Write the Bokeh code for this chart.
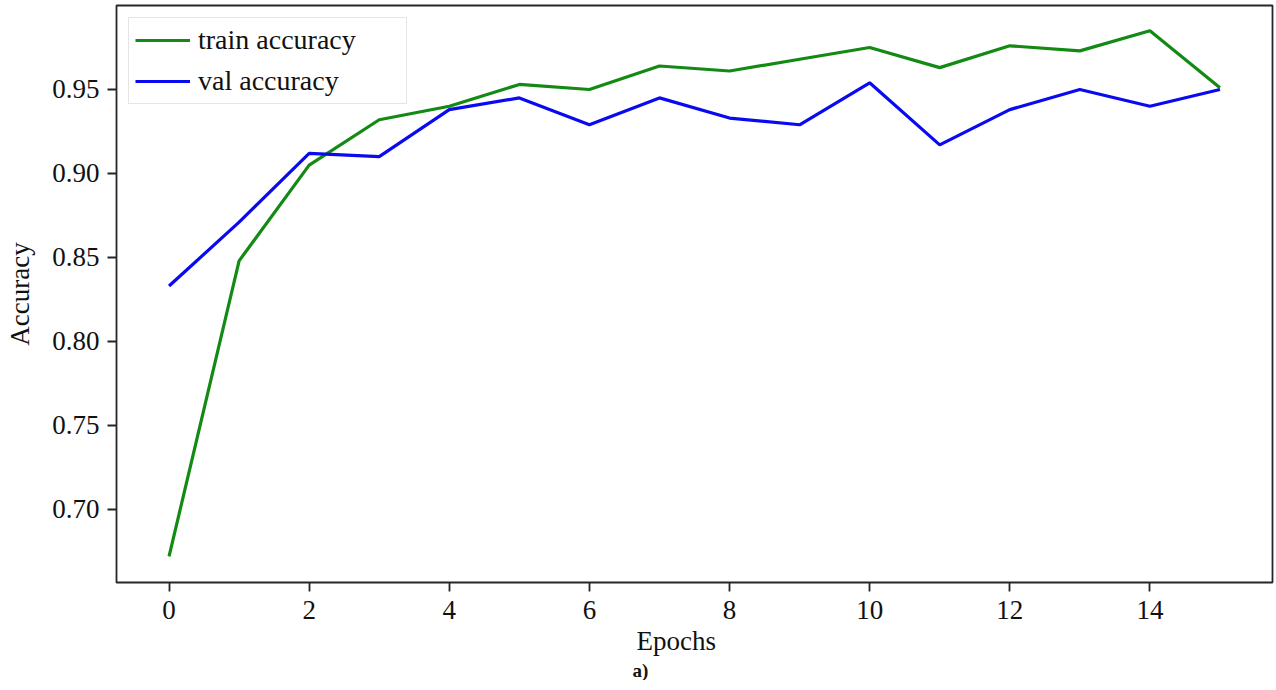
from bokeh.plotting import figure
from bokeh.models import Range1d, FixedTicker, Legend, LegendItem, Title, PrintfTickFormatter
from bokeh.embed import file_html
from bokeh.resources import INLINE

epochs = list(range(16))
train_accuracy = [0.672, 0.848, 0.905, 0.932, 0.940, 0.953, 0.950, 0.964,
                  0.961, 0.968, 0.975, 0.963, 0.976, 0.973, 0.985, 0.951]
val_accuracy = [0.833, 0.871, 0.912, 0.910, 0.938, 0.945, 0.929, 0.945,
                0.933, 0.929, 0.954, 0.917, 0.938, 0.950, 0.940, 0.950]
x_ticks = [0, 2, 4, 6, 8, 10, 12, 14]
y_ticks = [0.70, 0.75, 0.80, 0.85, 0.90, 0.95]

FONT = "Liberation Serif"
INK = "#262626"
TEXT = "#111111"

p = figure(
    frame_width=1156, frame_height=577,
    x_range=Range1d(-0.75, 15.75), y_range=Range1d(0.6565, 1.0),
    output_backend="svg", toolbar_location=None,
    min_border_left=116, min_border_right=4, min_border_top=5, min_border_bottom=10,
    background_fill_color="white", border_fill_color="white",
)
p.grid.visible = False
p.outline_line_color = INK
p.outline_line_width = 1.8

for ax in (p.xaxis[0], p.yaxis[0]):
    ax.axis_line_color = None
    ax.major_tick_line_color = INK
    ax.major_tick_line_width = 1.8
    ax.major_tick_out = 9
    ax.major_tick_in = 0
    ax.minor_tick_line_color = None
    ax.major_label_text_font = FONT
    ax.major_label_text_font_size = "27px"
    ax.major_label_text_color = TEXT
    ax.axis_label_text_font = FONT
    ax.axis_label_text_font_size = "27px"
    ax.axis_label_text_font_style = "normal"
    ax.axis_label_text_color = TEXT

p.xaxis.ticker = FixedTicker(ticks=x_ticks)
p.yaxis.ticker = FixedTicker(ticks=y_ticks)
p.yaxis.formatter = PrintfTickFormatter(format="%.2f")
p.yaxis.axis_label = "Accuracy"
p.xaxis.major_label_standoff = 9
p.yaxis.major_label_standoff = 8
p.yaxis.axis_label_standoff = 14

r_train = p.line(epochs, train_accuracy, line_color="#138a13", line_width=3.2)
r_val = p.line(epochs, val_accuracy, line_color="#0a0af0", line_width=3.2)

legend = Legend(
    items=[LegendItem(label="train accuracy", renderers=[r_train]),
           LegendItem(label="val accuracy", renderers=[r_val])],
    location="top_left", margin=12, padding=6, spacing=9,
    glyph_width=55, glyph_height=28, label_height=28, label_width=202,
    label_standoff=8,
    label_text_font=FONT, label_text_font_size="28px", label_text_color=TEXT,
    border_line_color="#cccccc", border_line_width=1.5,
    background_fill_color="white", background_fill_alpha=0.8,
)
p.add_layout(legend)

# x-axis title and panel tag, stacked beneath the tick labels
p.add_layout(Title(text="Epochs", align="left", offset=520, standoff=4,
                   text_font=FONT, text_font_size="27px", text_font_style="normal",
                   text_color=TEXT), "below")
p.add_layout(Title(text="a)", align="left", offset=516, standoff=0, text_font=FONT,
                   text_font_size="19px", text_font_style="bold",
                   text_color=TEXT), "below")

open("out.html", "w").write(file_html(p, INLINE))
